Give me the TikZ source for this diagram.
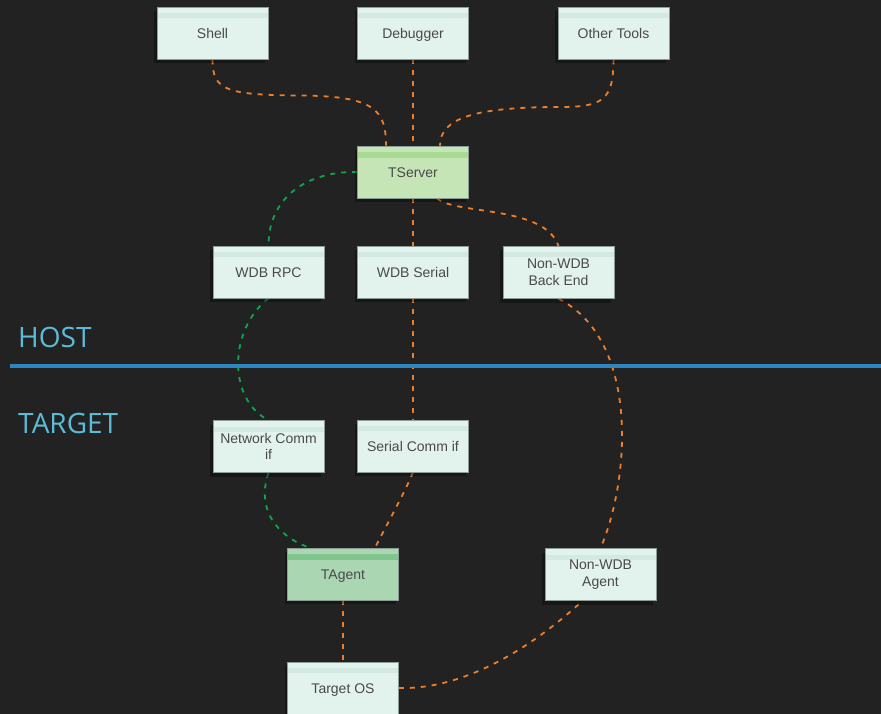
\documentclass[tikz,border=0pt]{standalone}
\usepackage{fontspec}
\setmainfont{Liberation Sans}
\newfontfamily\labelfont{Open Sans}
\usetikzlibrary{backgrounds,shadows}
\definecolor{bgc}{HTML}{222222}
\definecolor{boxfill}{HTML}{E2F2EC}
\definecolor{boxband}{HTML}{D3E9E1}
\definecolor{srvfill}{HTML}{C5E5B7}
\definecolor{srvband}{HTML}{A9DA92}
\definecolor{agtfill}{HTML}{AAD6B2}
\definecolor{agtband}{HTML}{80C48E}
\definecolor{boxedge}{HTML}{8C9C96}
\definecolor{txt}{HTML}{4A4A4A}
\definecolor{orng}{HTML}{F07D28}
\definecolor{grn}{HTML}{0BA64E}
\definecolor{sepblue}{HTML}{2E86C1}
\definecolor{lblc}{HTML}{5BBCD8}
\tikzset{
  box/.style={draw=boxedge, line width=0.6pt, fill=boxfill, minimum width=111pt, minimum height=52pt,
    inner sep=2pt, align=center, text=txt, font=\fontsize{14}{16.5}\selectfont,
    drop shadow={shadow xshift=-3pt, shadow yshift=-4pt, opacity=0.35, fill=black},
    path picture={\fill[boxband] ([yshift=-6pt]path picture bounding box.north west) rectangle ([yshift=-11pt]path picture bounding box.north east);}},
  oneline/.style={text height=11.5pt, text depth=0pt},
  srvbox/.style={box, fill=srvfill,
    path picture={\fill[srvband] ([yshift=-6pt]path picture bounding box.north west) rectangle ([yshift=-12pt]path picture bounding box.north east);}},
  agtbox/.style={box, fill=agtfill,
    path picture={\fill[agtband] ([yshift=-6pt]path picture bounding box.north west) rectangle ([yshift=-12pt]path picture bounding box.north east);}},
  olink/.style={draw=orng, line width=1.8pt, dash pattern=on 5pt off 6pt},
  glink/.style={draw=grn, line width=1.8pt, dash pattern=on 5pt off 6pt},
  zonelabel/.style={anchor=base west, inner sep=0pt, text=lblc, font=\labelfont\fontsize{28}{30}\selectfont}
}
\begin{document}
\begin{tikzpicture}[x=1pt,y=-1pt]
\useasboundingbox (0,0) rectangle (881,714);
% boxes
\node[box,oneline] (shell) at (212.5,33) {Shell};
\node[box,oneline] (dbg) at (413,33) {Debugger};
\node[box,oneline] (other) at (613.5,33) {Other Tools};
\node[srvbox,oneline] (tserver) at (413,172) {TServer};
\node[box,oneline] (rpc) at (268.5,272) {WDB RPC};
\node[box,oneline] (serial) at (413,272) {WDB Serial};
\node[box] (nwbe) at (558.5,272.5) {Non-WDB\\Back End};
\node[box] (netif) at (268.5,446.5) {Network Comm\\if};
\node[box,oneline] (serif) at (413,446) {Serial Comm if};
\node[agtbox,oneline] (tagent) at (343,574) {TAgent};
\node[box] (nwagent) at (600.5,574.5) {Non-WDB\\Agent};
\node[box,oneline] (tos) at (343,688) {Target OS};
% separator and zone labels
\coordinate (sepL) at (10,366);
\coordinate (sepR) at (881,366);
\draw[sepblue, line width=4pt] (sepL) -- (sepR);
\node[zonelabel] (host) at (18,347) {HOST};
\node[zonelabel] (target) at (18,433) {TARGET};
% background and connectors
\begin{scope}[on background layer]
\fill[bgc] (0,0) rectangle (881,714);
\draw[olink] (shell.south) .. controls (212.5,90) and (225,95) .. (300,95.5)
  .. controls (375,96) and ([xshift=-27pt]tserver.north |- 0,110) .. ([xshift=-27pt]tserver.north);
\draw[olink] (dbg.south) -- (tserver.north);
\draw[olink] (other.south) .. controls (613.5,100) and (603,107) .. (560,107)
  .. controls (475,107) and ([xshift=27pt]tserver.north |- 0,118) .. ([xshift=27pt]tserver.north);
\draw[olink] (tserver.south) -- (serial.north);
\draw[olink] ([xshift=24pt]tserver.south) .. controls (455,215) and (545,205) .. (nwbe.north);
\draw[glink] (tserver.west) .. controls (310,171) and (268.5,195) .. (rpc.north);
\draw[glink] (rpc.south) .. controls (228,330) and (228,400) .. (netif.north);
\draw[glink] (netif.south) .. controls (254,515) and (285,540) .. ([xshift=-33pt]tagent.north);
\draw[olink] (serial.south) -- (serif.north);
\draw[olink] (serif.south) .. controls (405,492) and (385,528) .. ([xshift=32pt]tagent.north);
\draw[olink] (nwbe.south) .. controls (640,340) and (630,480) .. (nwagent.north);
\draw[olink] (tagent.south) -- (tos.north);
\draw[olink] (tos.east) .. controls (470,690) and (540,640) .. ([xshift=-18pt]nwagent.south);
\end{scope}
\end{tikzpicture}
\end{document}
